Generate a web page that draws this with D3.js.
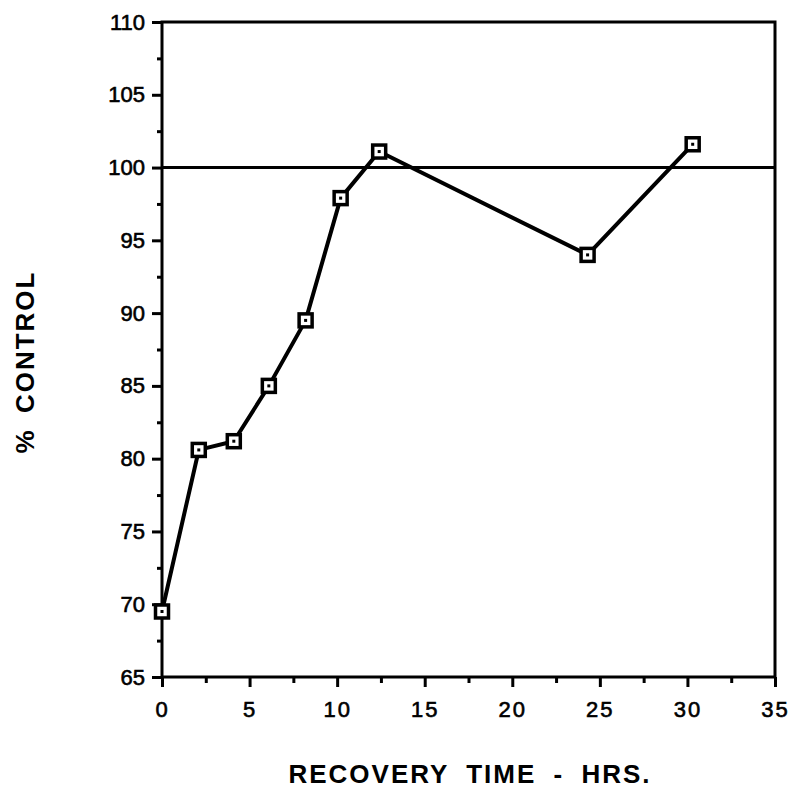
<!DOCTYPE html>
<html><head><meta charset="utf-8">
<script src="https://cdn.jsdelivr.net/npm/d3@7"></script>
<style>body{margin:0;background:#fff}svg{display:block}</style>
</head><body>
<svg id="c" width="794" height="804"></svg>
<script>
const hours = [0, 2.1, 4.1, 6.1, 8.2, 10.2, 12.4, 24.3, 30.3];
const pctControl = [69.5, 80.6, 81.2, 85.0, 89.5, 97.9, 101.1, 94.0, 101.6];
const xTicks = [0, 5, 10, 15, 20, 25, 30, 35];
const yTicks = [65, 70, 75, 80, 85, 90, 95, 100, 105, 110];
const referenceLine = 100;

const svg = d3.select("#c");
const L = 162, R = 775, T = 22, B = 677;
const x = d3.scaleLinear().domain([0, 35]).range([L, R]);
const y = d3.scaleLinear().domain([65, 110]).range([B, T]);
const font = "Liberation Sans, Arial, sans-serif";

// frame
svg.append("rect").attr("x", L).attr("y", T).attr("width", R - L).attr("height", B - T)
  .attr("fill", "none").attr("stroke", "#000").attr("stroke-width", 3);

// x axis
const xa = svg.append("g").attr("transform", `translate(0,${B})`)
  .call(d3.axisBottom(x).tickValues(xTicks).tickSize(10).tickPadding(14).tickFormat(d3.format("d")));
xa.select(".domain").remove();
xa.selectAll("line").attr("stroke-width", 3);
xa.selectAll("text").attr("font-family", font).attr("font-size", 22).attr("fill", "#000")
  .attr("stroke", "#000").attr("stroke-width", 0.6).style("letter-spacing", "2px");
const xm = svg.append("g").attr("transform", `translate(0,${B})`)
  .call(d3.axisBottom(x).tickValues(xTicks.slice(0, -1).map(d => d + 2.5)).tickSize(6).tickFormat(""));
xm.select(".domain").remove();
xm.selectAll("line").attr("stroke-width", 3);

// y axis
const ya = svg.append("g").attr("transform", `translate(${L},0)`)
  .call(d3.axisLeft(y).tickValues(yTicks).tickSize(10).tickPadding(7).tickFormat(d3.format("d")));
ya.select(".domain").remove();
ya.selectAll("line").attr("stroke-width", 3);
ya.selectAll("text").attr("font-family", font).attr("font-size", 22).attr("fill", "#000")
  .attr("stroke", "#000").attr("stroke-width", 0.6);
const ym = svg.append("g").attr("transform", `translate(${L},0)`)
  .call(d3.axisLeft(y).tickValues(yTicks.slice(0, -1).map(d => d + 2.5)).tickSize(5).tickFormat(""));
ym.select(".domain").remove();
ym.selectAll("line").attr("stroke-width", 3);

// reference line
svg.append("line").attr("x1", L).attr("x2", R).attr("y1", y(referenceLine)).attr("y2", y(referenceLine))
  .attr("stroke", "#000").attr("stroke-width", 3);

// data line
const pts = hours.map((h, i) => [h, pctControl[i]]);
svg.append("path").datum(pts)
  .attr("d", d3.line().x(d => x(d[0])).y(d => y(d[1])))
  .attr("fill", "none").attr("stroke", "#000").attr("stroke-width", 4).attr("stroke-linejoin", "round");

// markers
const m = svg.append("g").selectAll("g").data(pts).join("g")
  .attr("transform", d => `translate(${x(d[0])},${y(d[1])})`);
m.append("rect").attr("x", -6.5).attr("y", -6.5).attr("width", 13).attr("height", 13)
  .attr("fill", "#fff").attr("stroke", "#000").attr("stroke-width", 3.5);
m.append("rect").attr("x", -1.5).attr("y", -1.5).attr("width", 3).attr("height", 3).attr("fill", "#000");

// titles
svg.append("text").attr("x", 470).attr("y", 783).attr("text-anchor", "middle")
  .attr("font-family", font).attr("font-weight", "bold").attr("font-size", 26)
  .style("letter-spacing", "2px").style("word-spacing", "8px").text("RECOVERY TIME - HRS.");
svg.append("text").attr("transform", "translate(34,362) rotate(-90)").attr("text-anchor", "middle")
  .attr("font-family", font).attr("font-weight", "bold").attr("font-size", 26)
  .style("letter-spacing", "2px").style("word-spacing", "6px").text("% CONTROL");
</script>
</body></html>
